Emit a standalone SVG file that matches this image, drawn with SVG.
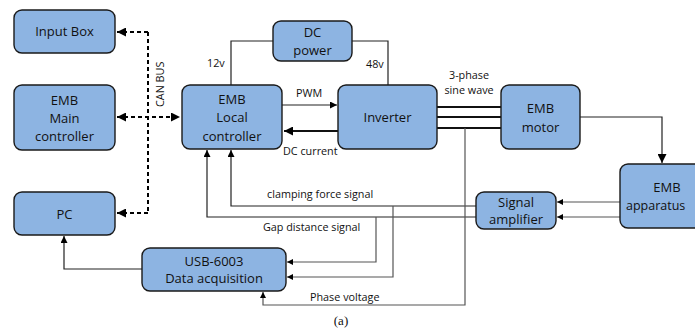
<svg xmlns="http://www.w3.org/2000/svg" width="695" height="331" viewBox="0 0 695 331">
<defs>
<marker id="ah" viewBox="0 0 10 10" refX="10" refY="5" markerWidth="7" markerHeight="7" markerUnits="userSpaceOnUse" orient="auto"><path d="M0,0 L10,5 L0,10 z" fill="#000"/></marker>
<marker id="ahb" viewBox="0 0 10 10" refX="10" refY="5" markerWidth="9" markerHeight="9" markerUnits="userSpaceOnUse" orient="auto-start-reverse"><path d="M0,0 L10,5 L0,10 z" fill="#000"/></marker>
<marker id="ahs" viewBox="0 0 10 10" refX="10" refY="5" markerWidth="6" markerHeight="6" markerUnits="userSpaceOnUse" orient="auto"><path d="M0,0 L10,5 L0,10 z" fill="#000"/></marker>
</defs>
<style>
.box{fill:#8DB4E2;stroke:#1a1a1a;stroke-width:1.4}
.t{font-family:"Open Sans","Noto Sans",sans-serif;font-size:13px;fill:#111;text-anchor:middle}
.s{font-family:"Open Sans","Noto Sans",sans-serif;font-size:10.8px;fill:#111}
.ln{fill:none;stroke:#222;stroke-width:1.2}
.gl{fill:none;stroke:#555;stroke-width:1.2}
.dash{fill:none;stroke:#000;stroke-width:2;stroke-dasharray:4,3}
</style>
<rect width="695" height="331" fill="#fff"/>

<g id="connectors">
<path class="dash" d="M148,32 V213"/>
<path class="dash" d="M148,32 H117" marker-end="url(#ahb)"/>
<path class="dash" d="M148,213 H117" marker-end="url(#ahb)"/>
<path class="dash" d="M117,117 H180" marker-start="url(#ahb)" marker-end="url(#ahb)"/>
<path class="ln" d="M231,85 V41 H273"/>
<path class="ln" d="M352,41 H388 V85"/>
<path class="ln" d="M282,105 H337" marker-end="url(#ah)"/>
<path fill="none" stroke="#111" stroke-width="2" d="M338,131 H284" marker-end="url(#ahb)"/>
<path fill="none" stroke="#111" stroke-width="2" d="M437,107 H501 M437,117 H501 M437,128 H501"/>
<path class="ln" d="M580,117 H662 V163" marker-end="url(#ahb)"/>
<path class="gl" d="M620,202 H557" marker-end="url(#ahs)"/>
<path class="gl" d="M620,217 H557" marker-end="url(#ahs)"/>
<path class="ln" d="M476,206 H231 V150" marker-end="url(#ah)"/>
<path class="ln" d="M476,217 H207 V150" marker-end="url(#ah)"/>
<path class="gl" d="M393,206 V277 H287" marker-end="url(#ahs)"/>
<path class="gl" d="M376,217 V262 H287" marker-end="url(#ahs)"/>
<path class="gl" d="M465,128 V305 H263 V292" marker-end="url(#ahs)"/>
<path class="ln" d="M142,269 H64 V236" marker-end="url(#ah)"/>
</g>

<g id="input-box"><rect class="box" x="14" y="10" width="101" height="43" rx="8"/><text class="t" x="64.5" y="36">Input Box</text></g>
<g id="emb-main"><rect class="box" x="14" y="85" width="101" height="65" rx="8"/><text class="t" x="64.5" y="105">EMB</text><text class="t" x="64.5" y="123">Main</text><text class="t" x="64.5" y="141">controller</text></g>
<g id="pc"><rect class="box" x="14" y="192" width="101" height="43" rx="8"/><text class="t" x="64.5" y="219">PC</text></g>
<g id="emb-local"><rect class="box" x="182" y="85" width="100" height="64" rx="8"/><text class="t" x="232" y="104">EMB</text><text class="t" x="232" y="122">Local</text><text class="t" x="232" y="141">controller</text></g>
<g id="dc-power"><rect class="box" x="273" y="21" width="79" height="40" rx="8"/><text class="t" x="312.5" y="37">DC</text><text class="t" x="312.5" y="55">power</text></g>
<g id="inverter"><rect class="box" x="338" y="85" width="99" height="64" rx="8"/><text class="t" x="387.5" y="122">Inverter</text></g>
<g id="emb-motor"><rect class="box" x="501" y="85" width="79" height="64" rx="8"/><text class="t" x="540.5" y="113">EMB</text><text class="t" x="540.5" y="132">motor</text></g>
<g id="emb-apparatus"><rect class="box" x="620" y="164" width="96" height="64" rx="8"/><text class="t" x="667" y="192">EMB</text><text class="t" x="626" y="210" style="text-anchor:start;font-size:12.5px">apparatus</text></g>
<g id="signal-amplifier"><rect class="box" x="476" y="192" width="80" height="37" rx="8"/><text class="t" x="516" y="207">Signal</text><text class="t" x="516" y="224">amplifier</text></g>
<g id="usb-daq"><rect class="box" x="142" y="248" width="144" height="43" rx="8"/><text class="t" x="214" y="266">USB-6003</text><text class="t" x="214" y="283">Data acquisition</text></g>

<g id="labels">
<text class="s" transform="translate(164,107) rotate(-90)">CAN BUS</text>
<text class="s" x="207" y="67">12v</text>
<text class="s" x="366" y="68">48v</text>
<text class="s" x="296" y="97">PWM</text>
<text class="s" x="283" y="155">DC current</text>
<text class="s" x="469" y="79" text-anchor="middle">3-phase</text>
<text class="s" x="469" y="94" text-anchor="middle">sine wave</text>
<text class="s" x="267" y="198">clamping force signal</text>
<text class="s" x="263" y="231">Gap distance signal</text>
<text class="s" x="310" y="301">Phase voltage</text>
<text x="341" y="325" font-family="Liberation Serif,serif" font-size="13" text-anchor="middle" fill="#111">(a)</text>
</g>
</svg>
